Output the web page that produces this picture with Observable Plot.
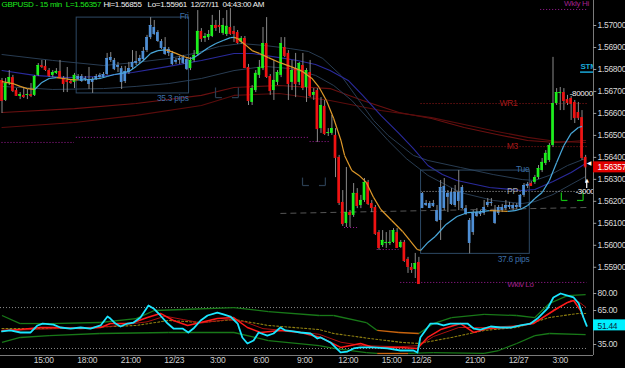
<!DOCTYPE html>
<html><head><meta charset="utf-8">
<script src="https://cdn.jsdelivr.net/npm/d3@7"></script>
<script src="https://cdn.jsdelivr.net/npm/@observablehq/plot@0.6"></script>
<style>
html,body{margin:0;padding:0;background:#000;}
#chart{width:625px;height:368px;background:#000;overflow:hidden;}
#chart svg{display:block;}
#chart svg text{letter-spacing:-0.3px;}
</style></head>
<body><div id="chart"></div>
<script>
// ---------- header ----------
const symbolText = "GBPUSD - 15 min  L=1.56357";
const hiText = "Hi=1.56855";
const loText = "Lo=1.55961";
const dateText = "12/27/11";
const timeText = "04:43:00 AM";
const lastClose = 1.56357;
const lastOsc = 51.44;

// ---------- candles (15 min bars, index 0 .. 161) ----------
const openP = [1.56750,1.56659,1.56736,1.56763,1.56704,1.56677,1.56682,1.56682,1.56686,1.56682,
1.56773,1.56818,1.56814,1.56795,1.56773,1.56782,1.56791,1.56759,1.56750,1.56745,
1.56741,1.56754,1.56768,1.56754,1.56754,1.56741,1.56754,1.56763,1.56763,1.56777,
1.56841,1.56841,1.56809,1.56804,1.56745,1.56786,1.56809,1.56827,1.56836,1.56845,
1.56886,1.56945,1.56991,1.56968,1.56927,1.56900,1.56873,1.56873,1.56832,1.56841,
1.56854,1.56845,1.56804,1.56841,1.56868,1.56973,1.56941,1.56945,1.56950,1.57000,
1.57000,1.56964,1.56959,1.56991,1.56973,1.56968,1.56923,1.56941,1.56809,1.56650,
1.56704,1.56773,1.56804,1.56918,1.56768,1.56704,1.56741,1.56773,1.56900,1.56873,
1.56741,1.56804,1.56741,1.56818,1.56718,1.56786,1.56682,1.56704,1.56531,1.56632,
1.56509,1.56509,1.56500,1.56400,1.56195,1.56099,1.56149,1.56136,1.56236,1.56181,
1.56204,1.56286,1.56190,1.56172,1.56058,1.55999,1.56008,1.56008,1.56013,1.56058,
1.55990,1.56013,1.55936,1.55899,1.55890,1.55922,1.56236,1.56181,1.56190,1.56177,
1.56158,1.56113,1.56268,1.56218,1.56240,1.56181,1.56240,1.56263,1.56167,1.56113,
1.56058,1.56149,1.56140,1.56145,1.56181,1.56190,1.56158,1.56145,1.56158,1.56167,
1.56172,1.56167,1.56172,1.56172,1.56227,1.56268,1.56281,1.56286,1.56308,1.56340,
1.56372,1.56386,1.56454,1.56645,1.56691,1.56695,1.56663,1.56668,1.56650,1.56604,
1.56581,1.56400];
const highP = [1.56759,1.56759,1.56795,1.56773,1.56713,1.56695,1.56713,1.56709,1.56736,1.56773,
1.56827,1.56841,1.56841,1.56804,1.56795,1.56804,1.56841,1.56768,1.56809,1.56754,
1.56782,1.56777,1.56777,1.56768,1.56809,1.56763,1.56777,1.56782,1.56786,1.56873,
1.56877,1.56850,1.56832,1.56814,1.56814,1.56832,1.56886,1.56882,1.56864,1.56900,
1.56955,1.57036,1.57023,1.56977,1.56936,1.56945,1.56900,1.56882,1.56850,1.56859,
1.56864,1.56854,1.56854,1.56886,1.57068,1.56986,1.56964,1.56977,1.57046,1.57023,
1.57068,1.57032,1.57068,1.57077,1.56996,1.56977,1.56950,1.56950,1.56823,1.56727,
1.56795,1.56841,1.56991,1.57036,1.56777,1.56841,1.56795,1.56945,1.56945,1.56886,
1.56841,1.56873,1.56832,1.56873,1.56804,1.56841,1.56713,1.56713,1.56672,1.56659,
1.56531,1.56591,1.56531,1.56409,1.56249,1.56354,1.56158,1.56281,1.56258,1.56227,
1.56304,1.56295,1.56204,1.56181,1.56067,1.56067,1.56058,1.56067,1.56076,1.56076,
1.56022,1.56022,1.55945,1.55917,1.55963,1.55945,1.56240,1.56204,1.56199,1.56204,
1.56181,1.56295,1.56304,1.56249,1.56258,1.56272,1.56340,1.56272,1.56181,1.56122,
1.56158,1.56167,1.56158,1.56204,1.56213,1.56213,1.56181,1.56181,1.56186,1.56204,
1.56195,1.56190,1.56190,1.56231,1.56281,1.56286,1.56290,1.56318,1.56363,1.56395,
1.56431,1.56463,1.56855,1.56713,1.56718,1.56713,1.56682,1.56677,1.56659,1.56650,
1.56613,1.56409];
const lowP = [1.56600,1.56654,1.56727,1.56695,1.56677,1.56663,1.56668,1.56663,1.56672,1.56677,
1.56768,1.56804,1.56791,1.56763,1.56763,1.56777,1.56759,1.56695,1.56695,1.56732,
1.56713,1.56750,1.56741,1.56745,1.56709,1.56691,1.56750,1.56754,1.56759,1.56773,
1.56832,1.56795,1.56786,1.56709,1.56736,1.56777,1.56800,1.56818,1.56827,1.56836,
1.56877,1.56936,1.56955,1.56923,1.56891,1.56864,1.56859,1.56818,1.56823,1.56823,
1.56823,1.56795,1.56795,1.56832,1.56859,1.56923,1.56923,1.56932,1.56945,1.56973,
1.56964,1.56955,1.56950,1.56955,1.56923,1.56914,1.56914,1.56804,1.56636,1.56636,
1.56695,1.56759,1.56795,1.56759,1.56682,1.56659,1.56727,1.56763,1.56854,1.56659,
1.56704,1.56672,1.56727,1.56704,1.56650,1.56672,1.56659,1.56468,1.56509,1.56500,
1.56495,1.56500,1.56308,1.56181,1.56086,1.56081,1.56081,1.56127,1.56167,1.56167,
1.56195,1.56181,1.56149,1.56045,1.55977,1.55990,1.55986,1.55999,1.56008,1.55986,
1.55986,1.55922,1.55872,1.55872,1.55849,1.55822,1.56167,1.56177,1.56167,1.56172,
1.56104,1.56022,1.56158,1.56149,1.56181,1.56172,1.56158,1.56163,1.56136,1.55961,
1.56045,1.56127,1.56131,1.56136,1.56172,1.56177,1.56095,1.56136,1.56149,1.56158,
1.56163,1.56158,1.56163,1.56167,1.56218,1.56258,1.56268,1.56277,1.56299,1.56331,
1.56363,1.56377,1.56445,1.56636,1.56613,1.56613,1.56636,1.56568,1.56554,1.56568,
1.56386,1.56281];
const closeP = [1.56659,1.56736,1.56763,1.56704,1.56682,1.56686,1.56677,1.56686,1.56682,1.56768,
1.56818,1.56814,1.56800,1.56773,1.56786,1.56791,1.56763,1.56736,1.56745,1.56741,
1.56773,1.56768,1.56750,1.56759,1.56736,1.56754,1.56768,1.56773,1.56777,1.56850,
1.56854,1.56804,1.56818,1.56745,1.56791,1.56804,1.56832,1.56836,1.56850,1.56882,
1.56945,1.57000,1.56964,1.56932,1.56900,1.56873,1.56891,1.56827,1.56841,1.56850,
1.56832,1.56804,1.56841,1.56864,1.56973,1.56941,1.56950,1.56959,1.57000,1.56991,
1.56996,1.57000,1.56996,1.56964,1.56964,1.56923,1.56941,1.56809,1.56659,1.56713,
1.56782,1.56809,1.56918,1.56768,1.56704,1.56750,1.56786,1.56918,1.56864,1.56736,
1.56795,1.56736,1.56827,1.56718,1.56795,1.56682,1.56695,1.56531,1.56636,1.56509,
1.56513,1.56531,1.56400,1.56195,1.56099,1.56149,1.56140,1.56236,1.56181,1.56204,
1.56286,1.56190,1.56172,1.56054,1.55990,1.56022,1.56013,1.56013,1.56067,1.55990,
1.56013,1.55931,1.55904,1.55890,1.55917,1.55826,1.56172,1.56190,1.56172,1.56190,
1.56113,1.56263,1.56172,1.56236,1.56190,1.56240,1.56204,1.56172,1.56145,1.56013,
1.56145,1.56136,1.56149,1.56172,1.56195,1.56195,1.56104,1.56172,1.56172,1.56181,
1.56181,1.56181,1.56181,1.56227,1.56272,1.56277,1.56272,1.56308,1.56349,1.56377,
1.56418,1.56454,1.56645,1.56695,1.56695,1.56659,1.56650,1.56645,1.56581,1.56581,
1.56400,1.56357];

// ---------- session range boxes ----------
const boxStart = [21, 116];
const boxEnd = [51, 145];
const boxDay = ["Fri", "Tue"];
const boxPips = ["35.3 pips", "37.6 pips"];

// ---------- moving averages (bar index, price) ----------
const ma1Idx = [0,3,5,7,9,11,13,15,17,19,21,24,27,29,31,33,35,37,39,41,43,45,46,48,50,52,53,55,57,59,61,63,64,65,67,69,71,73.5,76.5,79.5,82.5,85.5,87.5,89.5,91.5,93.5,94.5,96.5,98.5,100.5,102.5,104.5,107.5,110.5,112.5,114.5,115.5,117.5,119.5,122.5,125.5,128.5,131.5,134.5,137.5,139.5,141.5,143.5,145,147,149,151,153,155,157,159,160];
const ma1Val = [1.56745,1.56736,1.56723,1.56713,1.56709,1.56741,1.56759,1.56763,1.56759,1.56754,1.56752,1.56754,1.56759,1.56768,1.56777,1.56782,1.56791,1.56814,1.56841,1.56873,1.56886,1.56889,1.56886,1.56873,1.56859,1.56850,1.56854,1.56877,1.56900,1.56918,1.56932,1.56945,1.56946,1.56941,1.56914,1.56886,1.56873,1.56854,1.56832,1.56814,1.56795,1.56759,1.56718,1.56659,1.56577,1.56477,1.56409,1.56340,1.56318,1.56286,1.56218,1.56163,1.56113,1.56063,1.56022,1.55981,1.55977,1.56013,1.56040,1.56095,1.56131,1.56149,1.56152,1.56158,1.56156,1.56154,1.56158,1.56167,1.56181,1.56213,1.56240,1.56295,1.56377,1.56454,1.56509,1.56536,1.56541];
const navyIdx = [0,9,18,27,36,46,55,64,69,76.5,81.5,86.5,90.5,95.5,99.5,104.5,109.5,113.5,117.5,121.5,125.5,134.5,143.5,147,152,157,161];
const navyVal = [1.56795,1.56773,1.56763,1.56768,1.56786,1.56814,1.56841,1.56873,1.56873,1.56854,1.56841,1.56823,1.56795,1.56750,1.56682,1.56591,1.56509,1.56440,1.56363,1.56322,1.56295,1.56263,1.56249,1.56254,1.56290,1.56331,1.56372];
const upIdx = [0,14,28,37,46,53,60,66,72.5,79.5,84.5,88.5,93.5,98.5,102.5,106.5,113.5,117.5,126.5,135.5,143.5,147,151,156,161];
const upVal = [1.56868,1.56841,1.56818,1.56832,1.56850,1.56873,1.56905,1.56918,1.56909,1.56895,1.56882,1.56850,1.56773,1.56659,1.56568,1.56500,1.56409,1.56386,1.56354,1.56322,1.56299,1.56295,1.56318,1.56363,1.56395];
const dnIdx = [0,14,28,37,46,55,64,72.5,79.5,86.5,91.5,96.5,101.5,106.5,111.5,117.5,126.5,135.5,143.5,147,152,157,161];
const dnVal = [1.56723,1.56709,1.56713,1.56723,1.56736,1.56759,1.56795,1.56814,1.56804,1.56773,1.56727,1.56659,1.56568,1.56477,1.56395,1.56318,1.56240,1.56204,1.56190,1.56199,1.56231,1.56277,1.56313];
const redAIdx = [0,20,37,55,64,76.5,90.5,99.5,109.5,118.5,127.5,136.5,145,153,161];
const redAVal = [1.56604,1.56622,1.56645,1.56682,1.56718,1.56727,1.56713,1.56659,1.56604,1.56577,1.56536,1.56504,1.56477,1.56468,1.56477];
const redBIdx = [0,20,37,55,64,76.5,90.5,104.5,118.5,127.5,136.5,145,153,161];
const redBVal = [1.56536,1.56559,1.56591,1.56636,1.56682,1.56691,1.56659,1.56613,1.56581,1.56550,1.56518,1.56491,1.56472,1.56468];

// ---------- levels ----------
const levelName = ["WR1", "M3", "PP"];
const levelPrice = [1.56645, 1.56449, 1.56245];
const levelStart = 115.6;
const lowStepFrom = [0, 20.5, 85, 94.5, 103.5, 110];
const lowStepTo = [20, 84.5, 90.5, 98.5, 109.5, 161.4];
const lowStepPrice = [1.56468, 1.56491, 1.56472, 1.56081, 1.55981, 1.55831];
const weeklyHiPrice = 1.57073;
const weeklyHiFrom = 148.6;
const weeklyLabels = ["Wkly Hi", "Wkly Lo"];
const weeklyLabelIdx = [158.5, 143];
const weeklyLabelPrice = [1.57073, 1.55831];
const dashIdx = [[76.8, 161.4]];
const dashPrice = [[1.56145, 1.56172]];
const brFrom = [58.9, 82.9, 154.3];
const brTo = [65.2, 89.2, 160.3];
const brTop = [1.56718, 1.56308, 1.56240];
const brBottom = [1.56672, 1.56272, 1.56204];
const brColor = ["#2b3e52", "#2b3e52", "#10c010"];
const markText = ["-80000", "-3000"];
const markIdx = [156.6, 158.2];
const markPrice = [1.56691, 1.56245];
const priceTicks = [1.559,1.560,1.561,1.562,1.563,1.564,1.565,1.566,1.567,1.568,1.569,1.570];

// ---------- oscillator panel ----------
const oscIdx = [0,2.3,5.1,7.9,9.8,11.2,14.2,16.1,18.9,21.7,24.4,27.2,29.1,29.9,31.3,32.7,34.6,36.3,38.2,40.4,41.8,43.7,45.7,47.3,49.8,51.4,52.8,54.8,56.7,59.4,61.1,63,65,66.3,67.7,69.4,70.8,73.2,74.9,76.8,78.2,80.4,82.3,85.1,87,87.9,90.6,93.4,95.3,97,98.9,102.5,106.3,109.9,113.5,114.6,115.4,116.8,118.2,120.1,121.8,123.7,126.5,128.4,130.1,132,134.8,137.5,140.3,143,145.8,147.7,150.5,152.1,154.1,156,157.7,159.1,160.4,161.3];
const oscVal = [46.5,47.4,45.6,45.6,51.8,53.5,52.6,50.0,49.1,50.0,49.1,51.8,59.7,57.9,53.5,50.9,53.5,54.4,58.8,69.4,66.8,60.6,53.5,49.1,49.1,45.6,49.1,56.2,60.6,63.2,61.5,59.7,53.5,41.2,35.9,38.5,45.6,42.9,44.7,50.0,47.4,46.5,45.6,44.7,40.3,41.2,36.8,28.0,28.8,31.5,32.4,32.4,31.5,29.7,29.7,27.9,41.2,47.4,53.5,53.5,51.8,53.5,53.5,53.5,49.1,48.2,50.9,50.0,50.0,51.8,53.5,57.9,66.8,76.5,80.0,78.2,76.5,71.2,58.8,51.44];
const sigIdx = [0,5.1,10.6,16.1,21.7,27.2,29.9,35.5,40.1,43.7,47.3,51.2,54.8,59.4,63.9,67.7,71.3,76.8,82.3,87.9,93.4,98.9,102.5,109.9,114.6,117.4,121,126.5,130.1,133.9,139.5,146.6,152.1,156,157.7,159.6,160.4];
const sigVal = [47.4,48.2,50.0,50.0,49.1,50.0,53.5,53.5,58.8,62.4,56.2,51.8,54.4,58.0,58.8,50.0,45.6,47.4,45.6,41.2,32.4,35.9,32.4,32.4,31.5,41.2,48.2,53.5,45.6,49.1,50.0,53.5,65.0,72.1,73.8,65.0,58.8];
const slowIdx = [0,10,20,30,40,45,50,55,62,67,72,79.5,87.5,93.5,99.5,109.5,115,119,126,134,144,149,154,157,159,161];
const slowVal = [47,48.5,49.5,51,55,60,57,54,57,55,49,47,44,37,34,33,34,42,50,50,52,58,68,74,73,68];
const avgIdx = [0,18,37,46,55,64,73.5,87.5,91.5,101.5,110.5,115,124,133,142,151,159,161];
const avgVal = [49.1,49.1,51.8,56.2,54.4,57.1,51.8,48.2,44.7,40.3,36.8,35.9,41.2,47.4,50.0,58.8,62.4,62.4];
const bandUpIdx = [0,5,13,27,37,42,50,64,73.5,87.5,91.5,100.5,103.5,109.5,115,119,124,133,142,147,151,156,161];
const bandUpVal = [60.6,53.5,53.5,54.4,57.9,65.0,65.9,67.6,64.1,60.6,60.6,54.4,47.4,45.6,44.7,53.5,58.8,61.5,60.6,58.8,71.2,78.2,79.1];
const bandDnIdx = [0,5,13,27,46,64,73.5,87.5,91.5,100.5,103.5,112,119,133,137,142,147,151,161];
const bandDnVal = [36.8,41.2,42.9,44.7,45.6,45.6,38.5,34.1,31.5,27.9,27.1,27.1,27.9,27.1,29.7,35.9,42.9,44.7,43.8];
const squeezeFrom = 103.5, squeezeTo = 117;
const oscGuides = [67.6, 31.5];
const oscTicks = [80, 65, 35];

// ---------- time axis ----------
const timeTickIdx = [11.5,23.5,35.5,47.5,59.5,71.5,83.5,95.5,107.5,115.7,130.5,142.5,154];
const timeTickLabel = ["15:00","18:00","21:00","12/23","3:00","6:00","9:00","12:00","15:00","12/26","21:00","12/27","3:00"];

// ================= build =================
const FONT = "Liberation Sans, Arial, sans-serif";
const UP = "#1cf01c", DOWN = "#f01212", BLUE = "#4e8fd6", WICK = "#8a8a8a";
const MA_UP = "#4aa9dc", MA_DN = "#e09a2a";
const xDomain = [-0.414, 163.17];
const xMax = xDomain[1];

const candles = d3.range(openP.length).map(i => ({i, o: openP[i], h: highP[i], l: lowP[i], c: closeP[i]}));
const boxes = boxStart.map((s, k) => {
  const seg = candles.slice(s, boxEnd[k] + 1);
  return {s, e: boxEnd[k], day: boxDay[k], pips: boxPips[k], hi: d3.max(seg, d => d.h), lo: d3.min(seg, d => d.l)};
});
const inBox = i => boxes.some(b => i >= b.s && i <= b.e);
const colorOf = d => inBox(d.i) ? BLUE : d.c > d.o ? UP : d.c < d.o ? DOWN : "#9a9a9a";
const pts = (idx, val) => idx.map((i, k) => ({i, v: val[k]}));
const segs = (idx, val) => idx.slice(1).map((i, k) => ({i1: idx[k], v1: val[k], i2: i, v2: val[k + 1]}));

const ma1Segs = segs(ma1Idx, ma1Val);
const levels = levelName.map((n, k) => ({n, p: levelPrice[k]}));
const lowSteps = lowStepFrom.map((f, k) => ({f, t: lowStepTo[k], p: lowStepPrice[k]}));
const weekly = weeklyLabels.map((t, k) => ({t, i: weeklyLabelIdx[k], p: weeklyLabelPrice[k]}));
const dashSegs = dashIdx.map((d, k) => ({i1: d[0], i2: d[1], v1: dashPrice[k][0], v2: dashPrice[k][1]}));
const brackets = brFrom.flatMap((f, k) => {
  const t = brTo[k], top = brTop[k], bot = brBottom[k], c = brColor[k], w = (t - f) * 0.28;
  return [
    {i1: f, v1: top, i2: f, v2: bot, c}, {i1: f, v1: bot, i2: f + w, v2: bot, c},
    {i1: t - w, v1: bot, i2: t, v2: bot, c}, {i1: t, v1: bot, i2: t, v2: top, c}
  ];
});
const marks = markText.map((t, k) => ({t, i: markIdx[k], p: markPrice[k]}));
const HF = 8;

const main = Plot.plot({
  width: 625, height: 287,
  marginLeft: 0, marginRight: 32, marginTop: 0, marginBottom: 0,
  style: {background: "#000", color: "#dcdcdc", fontFamily: FONT, fontSize: "8px", overflow: "visible"},
  x: {domain: xDomain, axis: null},
  y: {domain: [1.55808, 1.571138], axis: null},
  marks: [
    Plot.line(pts(redAIdx, redAVal), {x: "i", y: "v", stroke: "#6a1010", strokeWidth: 1.1}),
    Plot.line(pts(redBIdx, redBVal), {x: "i", y: "v", stroke: "#5a0c0c", strokeWidth: 1.1}),
    Plot.line(pts(upIdx, upVal), {x: "i", y: "v", stroke: "#283c52", strokeWidth: 1}),
    Plot.line(pts(dnIdx, dnVal), {x: "i", y: "v", stroke: "#283c52", strokeWidth: 1}),
    Plot.line(pts(navyIdx, navyVal), {x: "i", y: "v", stroke: "#2a2a9c", strokeWidth: 1.1}),
    Plot.link(dashSegs, {x1: "i1", y1: "v1", x2: "i2", y2: "v2", stroke: "#555", strokeDasharray: "6,4"}),
    Plot.ruleY(lowSteps, {y: "p", x1: "f", x2: "t", stroke: "#a01c9a", strokeDasharray: "1,2"}),
    Plot.ruleY([weeklyHiPrice], {y: d => d, x1: () => weeklyHiFrom, x2: () => 161.4, stroke: "#a01c9a", strokeDasharray: "1,2"}),
    Plot.text(weekly.slice(0, 1), {x: "i", y: "p", text: "t", dy: -6, fill: "#a0208c", fontSize: 8, fontFamily: FONT, clip: true}),
    Plot.text(weekly.slice(1), {x: "i", y: "p", text: "t", dy: 2, fill: "#a0208c", fontSize: 8, fontFamily: FONT, clip: true}),
    Plot.ruleY(levels, {y: "p", x1: () => levelStart, x2: () => 161.4, stroke: d => d.n === "PP" ? "#b0b0b0" : "#9a1a1a", strokeDasharray: "1,2"}),
    Plot.link(brackets, {x1: "i1", y1: "v1", x2: "i2", y2: "v2", stroke: "c", strokeWidth: 1.2}),
    Plot.rect(boxes, {x1: d => d.s - 0.4, x2: d => d.e + 0.6, y1: "lo", y2: "hi", fill: "none", stroke: "#2d4864", strokeWidth: 1}),
    Plot.ruleX(candles, {x: "i", y1: "l", y2: "h", stroke: WICK, strokeWidth: 1}),
    Plot.rect(candles, {x1: d => d.i - 0.37, x2: d => d.i + 0.37, y1: d => Math.min(d.o, d.c), y2: d => Math.max(d.o, d.c), fill: colorOf}),
    Plot.ruleY(candles, {y: "c", x1: d => d.i - 0.37, x2: d => d.i + 0.37, stroke: colorOf}),
    Plot.link(ma1Segs, {x1: "i1", y1: "v1", x2: "i2", y2: "v2", stroke: d => d.v2 >= d.v1 ? MA_UP : MA_DN, strokeWidth: 1.2}),
    // box labels
    Plot.text(boxes, {x: d => d.e + 0.5, y: "lo", text: "pips", textAnchor: "end", lineAnchor: "top", dy: 2, fill: "#3b6ea6", fontSize: 8.5, fontFamily: FONT}),
    Plot.text(boxes, {x: d => d.e + 0.5, y: "hi", text: "day", textAnchor: "end", lineAnchor: "bottom", dy: 1, fill: "#3b6ea6", fontSize: 8.5, fontFamily: FONT}),
    // level labels
    Plot.text(levels, {x: d => d.n === "WR1" ? 139.7 : 140.8, y: "p", text: "n", fill: d => d.n === "PP" ? "#a8a8a8" : "#a51818", fontSize: 8.5, fontFamily: FONT}),
    Plot.text(marks, {x: "i", y: "p", text: "t", textAnchor: "start", fill: "#f0f0f0", fontSize: 8, fontFamily: FONT, clip: true}),
    Plot.text(["STM"], {x: () => 159.6, y: () => 1.56814, text: d => d, textAnchor: "start", fill: "#19a8d8", fontSize: 8, fontWeight: "bold", fontFamily: FONT, clip: true}),
    Plot.ruleY([1.56788], {y: d => d, x1: () => 159.6, x2: () => xMax, stroke: "#19a8d8", strokeWidth: 1.5}),
    Plot.text([lastClose], {x: () => 161.9, y: () => 1.56372, text: () => "\u25C0", fill: "#fff", fontSize: 6, fontFamily: "DejaVu Sans"}),
    Plot.text([lastClose], {x: () => 161.3, y: () => 1.56295, text: () => "\u25B2", fill: "#fff", fontSize: 5, fontFamily: "DejaVu Sans"}),
    Plot.ruleX([161.3], {x: d => d, y1: () => 1.56290, y2: () => 1.56258, stroke: "#fff", strokeWidth: 1.2}),
    // header
    Plot.text([symbolText], {frameAnchor: "top-left", text: d => d, dx: 1, dy: 1, lineAnchor: "top", textAnchor: "start", fill: "#1ee81e", fontSize: HF, fontFamily: FONT}),
    Plot.text([hiText], {frameAnchor: "top-left", text: d => d, dx: 103, dy: 1, lineAnchor: "top", textAnchor: "start", fill: "#f2f2f2", fontSize: HF, fontFamily: FONT}),
    Plot.text([loText], {frameAnchor: "top-left", text: d => d, dx: 147, dy: 1, lineAnchor: "top", textAnchor: "start", fill: "#f2f2f2", fontSize: HF, fontFamily: FONT}),
    Plot.text([dateText], {frameAnchor: "top-left", text: d => d, dx: 190, dy: 1, lineAnchor: "top", textAnchor: "start", fill: "#f2f2f2", fontSize: HF, fontFamily: FONT}),
    Plot.text([timeText], {frameAnchor: "top-left", text: d => d, dx: 222, dy: 1, lineAnchor: "top", textAnchor: "start", fill: "#f2f2f2", fontSize: HF, fontFamily: FONT}),
    // right price axis
    Plot.ruleX([xMax], {x: d => d, stroke: "#7a7a7a"}),
    Plot.ruleY(priceTicks, {y: d => d, x1: () => xMax, x2: () => xMax + 0.9, stroke: "#9a9a9a"}),
    Plot.text(priceTicks, {y: d => d, frameAnchor: "right", dx: 4, textAnchor: "start", text: d => d3.format(".5f")(d), fill: "#d8d8d8", fontSize: 8.5, fontFamily: FONT}),
    Plot.rect([lastClose], {x1: () => xMax, x2: () => xMax, y1: d => d, y2: d => d, insetRight: -32, insetTop: -5, insetBottom: -6, fill: "#e00000"}),
    Plot.text([lastClose], {y: d => d, frameAnchor: "right", dx: 4, textAnchor: "start", text: d => d3.format(".5f")(d), fill: "#ffffff", fontSize: 8.5, fontFamily: FONT})
  ]
});

const bandSegs = (idx, val) => segs(idx, val).map(s => ({...s, sq: s.i1 >= squeezeFrom && s.i2 <= squeezeTo}));

const lower = Plot.plot({
  width: 625, height: 81,
  marginLeft: 0, marginRight: 32, marginTop: 0, marginBottom: 13,
  style: {background: "#000", color: "#dcdcdc", fontFamily: FONT, fontSize: "8px", overflow: "visible"},
  x: {domain: xDomain, axis: null},
  y: {domain: [25.3, 85.3], axis: null},
  marks: [
    Plot.ruleY(oscGuides, {y: d => d, x1: () => xDomain[0], x2: () => 161.4, stroke: "#8a8a8a", strokeDasharray: "1,2"}),
    Plot.link(bandSegs(bandUpIdx, bandUpVal), {x1: "i1", y1: "v1", x2: "i2", y2: "v2", stroke: d => d.sq ? "#c8640e" : "#187818", strokeWidth: 1.3}),
    Plot.link(bandSegs(bandDnIdx, bandDnVal), {x1: "i1", y1: "v1", x2: "i2", y2: "v2", stroke: d => d.sq ? "#c8640e" : "#187818", strokeWidth: 1.3}),
    Plot.line(pts(avgIdx, avgVal), {x: "i", y: "v", stroke: "#8f7f10", strokeWidth: 1.1, strokeDasharray: "2,2"}),
    Plot.line(pts(slowIdx, slowVal), {x: "i", y: "v", stroke: "#a81010", strokeWidth: 1}),
    Plot.line(pts(sigIdx, sigVal), {x: "i", y: "v", stroke: "#ff1a1a", strokeWidth: 1.5}),
    Plot.line(pts(oscIdx, oscVal), {x: "i", y: "v", stroke: "#1ae6ff", strokeWidth: 1.8}),
    Plot.ruleX([xMax], {x: d => d, stroke: "#7a7a7a"}),
    Plot.ruleY([25.3], {y: d => d, x1: () => xDomain[0], x2: () => xMax, stroke: "#7a7a7a"}),
    Plot.ruleY(oscTicks, {y: d => d, x1: () => xMax, x2: () => xMax + 0.9, stroke: "#9a9a9a"}),
    Plot.text(oscTicks, {y: d => d, frameAnchor: "right", dx: 4, textAnchor: "start", text: d => d3.format(".2f")(d), fill: "#d8d8d8", fontSize: 8.5, fontFamily: FONT}),
    Plot.rect([lastOsc], {x1: () => xMax, x2: () => xMax, y1: d => d, y2: d => d, insetRight: -32, insetTop: -6, insetBottom: -5, fill: "#00f0ff"}),
    Plot.text([lastOsc], {y: d => d, frameAnchor: "right", dx: 4, textAnchor: "start", text: d => d3.format(".2f")(d), fill: "#0a2a40", fontSize: 8.5, fontFamily: FONT}),
    Plot.text(timeTickIdx.map((i, k) => ({i, t: timeTickLabel[k]})), {x: "i", text: "t", frameAnchor: "bottom", dy: 7, fill: "#d0d0d0", fontSize: 8.5, fontFamily: FONT})
  ]
});

const el = document.getElementById("chart");
el.appendChild(main);
el.appendChild(lower);
</script>
</body></html>
